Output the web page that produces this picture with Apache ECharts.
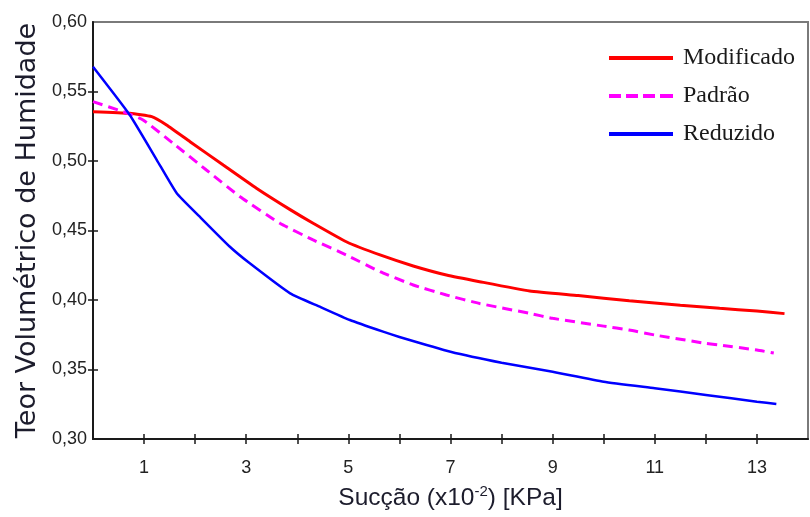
<!DOCTYPE html>
<html>
<head>
<meta charset="utf-8">
<script src="https://cdn.jsdelivr.net/npm/echarts@6/dist/echarts.min.js"></script>
<style>
html,body{margin:0;padding:0;background:#fff;}
#chart{width:810px;height:517px;}
</style>
</head>
<body>
<div id="chart"></div>
<script>
// Data
const seriesNames = ['Modificado', 'Padrão', 'Reduzido'];

const modX = [0, 0.72, 1.15, 1.44, 1.9, 2.55, 3.2, 3.86, 4.31, 4.96, 5.62, 6.27, 6.92, 7.57, 8.55, 9.5, 10.5, 11.5, 12.27, 13.0, 13.54];
const modY = [0.5355, 0.5343, 0.5319, 0.5259, 0.5139, 0.4971, 0.4804, 0.465, 0.4552, 0.4419, 0.4324, 0.4245, 0.418, 0.4132, 0.4065, 0.4032, 0.3995, 0.3963, 0.394, 0.3921, 0.3902];

const padX = [0, 0.59, 0.98, 1.57, 2.22, 2.88, 3.66, 4.31, 4.96, 5.62, 6.27, 6.92, 7.57, 8.55, 9.0, 10.0, 10.5, 11.0, 12.0, 12.27, 13.0, 13.33];
const padY = [0.5427, 0.5355, 0.5295, 0.5127, 0.4935, 0.4743, 0.4552, 0.4432, 0.4324, 0.4204, 0.4108, 0.4036, 0.3975, 0.3904, 0.3868, 0.3812, 0.3784, 0.3748, 0.3688, 0.3676, 0.364, 0.3618];

const redX = [0, 0.72, 1.25, 1.64, 2.09, 2.68, 3.07, 3.86, 4.44, 5.03, 5.68, 6.0, 7.0, 8.0, 9.0, 10.0, 11.0, 12.0, 13.0, 13.38];
const redY = [0.5678, 0.5331, 0.5007, 0.4768, 0.4599, 0.4383, 0.4264, 0.4048, 0.3952, 0.3856, 0.3772, 0.3734, 0.3628, 0.3549, 0.3484, 0.3412, 0.3365, 0.3317, 0.3268, 0.3252];

const xTickValues = [1, 2, 3, 4, 5, 6, 7, 8, 9, 10, 11, 12, 13];
const xTickLabels = [1, 3, 5, 7, 9, 11, 13];
const yTickValues = [0.35, 0.40, 0.45, 0.50, 0.55];
const yTickLabels = [0.30, 0.35, 0.40, 0.45, 0.50, 0.55, 0.60];

const zip = (xs, ys) => xs.map((x, i) => [x, ys[i]]);

const chart = echarts.init(document.getElementById('chart'), null, {renderer: 'canvas'});

const axisColor = '#1a1a1a';
const sansFont = "'Liberation Sans', Arial, sans-serif";
const solidIcon = 'path://M0,0h64v4h-64z';
const dashIcon = 'path://M0,0h12v4h-12zM17,0h12v4h-12zM34,0h12v4h-12zM51,0h13v4h-13z';

const option = {
  animation: false,
  backgroundColor: '#fff',
  grid: {
    left: 93, right: 2, top: 22, bottom: 78,
    show: true, borderColor: '#7a7a7a', borderWidth: 2, backgroundColor: '#fff'
  },
  legend: {
    orient: 'vertical',
    left: 604, top: 41,
    itemWidth: 64, itemHeight: 4, itemGap: 14,
    data: [
      {name: seriesNames[0], icon: solidIcon},
      {name: seriesNames[1], icon: dashIcon},
      {name: seriesNames[2], icon: solidIcon}
    ],
    textStyle: {fontFamily: "'Liberation Serif', 'Times New Roman', serif", fontSize: 24, color: '#1a1a1a', padding: [0, 0, 0, 5]}
  },
  xAxis: [{
    type: 'value', min: 0, max: 14, interval: 1, position: 'bottom',
    name: 'Sucção (x10{sup|-2}) [KPa]',
    nameLocation: 'middle', nameGap: 45,
    nameTextStyle: {
      fontFamily: sansFont, fontSize: 24.5, color: '#1c1c2c', lineHeight: 28,
      rich: {sup: {fontFamily: sansFont, fontSize: 15, verticalAlign: 'top', lineHeight: 28, color: '#1c1c2c'}}
    },
    splitLine: {show: false},
    axisLine: {show: true, onZero: false, lineStyle: {color: axisColor, width: 2}},
    axisTick: {show: true, length: 5, customValues: xTickValues, lineStyle: {color: axisColor, width: 1.5}},
    axisLabel: {customValues: xTickLabels, margin: 20, fontFamily: sansFont, fontSize: 18, color: '#222'}
  }, {
    type: 'value', min: 0, max: 14, interval: 1, position: 'bottom',
    splitLine: {show: false},
    axisLine: {show: false},
    axisTick: {show: true, inside: true, length: 5, customValues: xTickValues, lineStyle: {color: axisColor, width: 1.5}},
    axisLabel: {show: false}
  }],
  yAxis: [{
    type: 'value', min: 0.30, max: 0.60, interval: 0.05, position: 'left',
    name: 'Teor Volumétrico de Humidade',
    nameLocation: 'middle', nameGap: 52,
    nameTextStyle: {fontFamily: "'DejaVu Sans', sans-serif", fontSize: 27, color: '#1c1c2c'},
    splitLine: {show: false},
    axisLine: {show: true, onZero: false, lineStyle: {color: axisColor, width: 2}},
    axisTick: {show: true, length: 5, customValues: yTickValues, lineStyle: {color: axisColor, width: 1.5}},
    axisLabel: {
      customValues: yTickLabels, margin: 6, fontFamily: sansFont, fontSize: 18, color: '#222',
      formatter: v => v.toFixed(2).replace('.', ',')
    }
  }, {
    type: 'value', min: 0.30, max: 0.60, interval: 0.05, position: 'left',
    splitLine: {show: false},
    axisLine: {show: false},
    axisTick: {show: true, inside: true, length: 5, customValues: yTickValues, lineStyle: {color: axisColor, width: 1.5}},
    axisLabel: {show: false}
  }],
  series: [{
    name: seriesNames[0], type: 'line', xAxisIndex: 0, yAxisIndex: 0,
    data: zip(modX, modY), symbol: 'none', smooth: 0.15,
    lineStyle: {color: '#ff0000', width: 3}, itemStyle: {color: '#ff0000'}
  }, {
    name: seriesNames[1], type: 'line', xAxisIndex: 0, yAxisIndex: 0,
    data: zip(padX, padY), symbol: 'none', smooth: 0.15,
    lineStyle: {color: '#ff00ff', width: 3, type: [10, 6]}, itemStyle: {color: '#ff00ff'}
  }, {
    name: seriesNames[2], type: 'line', xAxisIndex: 0, yAxisIndex: 0,
    data: zip(redX, redY), symbol: 'none', smooth: 0.15,
    lineStyle: {color: '#0000ff', width: 2.5}, itemStyle: {color: '#0000ff'}
  }]
};
chart.setOption(option);
</script>
</body>
</html>
